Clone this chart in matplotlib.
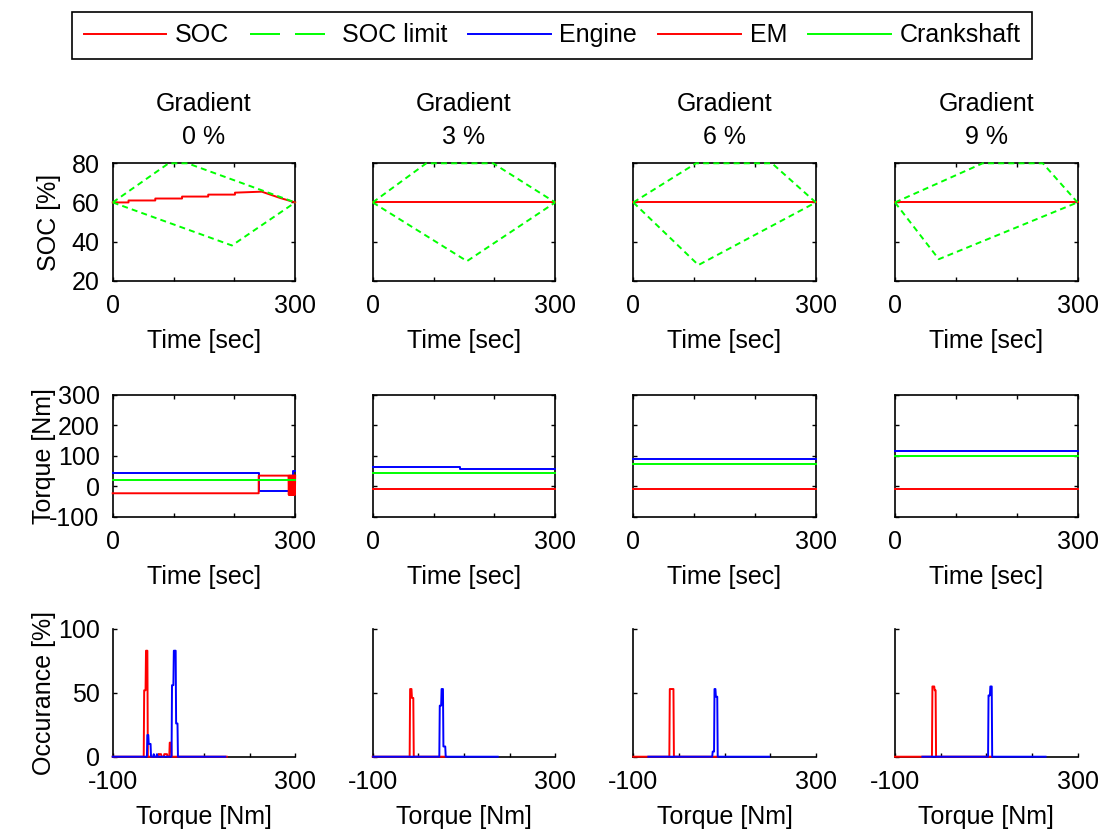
import matplotlib
matplotlib.use('Agg')
import matplotlib.pyplot as plt
from matplotlib.lines import Line2D

plt.rcParams['font.family'] = ['Liberation Sans', 'DejaVu Sans']
plt.rcParams['font.size'] = 18
plt.rcParams['axes.titlesize'] = 18
plt.rcParams['axes.unicode_minus'] = False
plt.rcParams['lines.scale_dashes'] = False

# -----------------------------
# Data
# -----------------------------
gradients = ['0 %', '3 %', '6 %', '9 %']

# SOC trace [%] vs time [s]
soc_t = [[0, 26, 26, 70, 70, 114, 114, 157, 157, 201, 201, 245, 259, 275, 300],
         [0, 300], [0, 300], [0, 300]]
soc_v = [[60, 60, 61, 61, 62, 62, 63, 63, 64, 64, 65, 65.5, 64, 62.3, 60],
         [60, 60], [60, 60], [60, 60]]

# SOC limits (upper / lower envelope)
lim_hi_t = [[0, 92, 123, 300], [0, 88, 198, 300], [0, 103, 228, 300], [0, 144, 243, 300]]
lim_hi_v = [[60, 80, 80, 60], [60, 80, 80, 60], [60, 80, 80, 60], [60, 80, 80, 60]]
lim_lo_t = [[0, 196, 300], [0, 155, 300], [0, 107, 300], [0, 72, 300]]
lim_lo_v = [[60, 38, 60], [60, 30, 60], [60, 28, 60], [60, 31, 60]]

# Torque time series [Nm]
eng_t = [[0, 240, 240, 296, 296, 300], [0, 144, 144, 300], [0, 300], [0, 300]]
eng_v = [[42, 42, -16, -16, 50, 50], [62, 62, 56, 56], [91, 91], [116, 116]]
em_t = [[0, 240, 240, 289, 289.5, 290, 290.5, 291, 291.5, 292, 292.5, 293, 293.5,
         294, 294.5, 295, 295.5, 296, 296.5, 297, 297.5, 298, 298.5, 299, 299.5, 300],
        [0, 300], [0, 300], [0, 300]]
em_v = [[-23, -23, 35, 35, -28, 35, -28, 35, -28, 35, -28, 35, -28,
         35, -28, 35, -28, 35, -28, 35, -28, 35, -28, 35, -28, 35],
        [-9, -9], [-9, -9], [-9, -9]]
crank_t = [[0, 300], [0, 300], [0, 300], [0, 300]]
crank_v = [[19, 19], [43, 43], [74, 74], [100, 100]]

# Torque occurrence histograms [%]
em_hx = [[-100, -32, -31, -28, -27, -24, -23, 0, 1, 6, 7, 12, 13, 19, 20, 24, 25, 28, 29, 150],
         [-100, -19, -18, -15, -14, -11, -10, 60],
         [-100, -21, -20, -12, -11, 84],
         [-100, -19, -18, -14, -13, -11, -10, 110]]
em_hy = [[0, 0, 52, 52, 83, 83, 0, 0, 2, 2, 0, 0, 2, 2, 0, 0, 11, 11, 0, 0],
         [0, 0, 53, 53, 46, 46, 0, 0],
         [0, 0, 53, 53, 0, 0],
         [0, 0, 55, 55, 52, 52, 0, 0]]
eng_hx = [[-100, -25, -24, -22, -21, -17, -16, -11, -10, -9, -4, -3, -2,
           29, 30, 33, 34, 38, 39, 42, 43, 147],
          [-99, 46, 47, 50, 51, 54, 55, 59, 60, 174],
          [-67, 73, 74, 77, 78, 80, 81, 84, 85, 198],
          [-40, 104, 105, 108, 109, 112, 113, 230]]
eng_hy = [[0, 0, 17, 17, 10, 10, 0, 0, 2, 0, 0, 2, 0,
           0, 56, 56, 83, 83, 26, 26, 0, 0],
          [0, 0, 40, 40, 53, 53, 8, 8, 0, 0],
          [0, 0, 4, 4, 53, 53, 47, 47, 0, 0],
          [0, 0, 48, 48, 55, 55, 0, 0]]

RED, GREEN, BLUE = '#ff0000', '#00ff00', '#0000ff'
LW = 1.4
DASH = (4.3, 3.0)

# -----------------------------
# Layout (pixel boxes of the original)
# -----------------------------
W, H = 1104, 833
fig = plt.figure(figsize=(W / 100, H / 100), dpi=100)

col_left = [112.7, 372.7, 633.3, 895.0]
col_w = 182.5
rows = [(163.3, 280.7), (395.0, 516.7), (629.0, 756.7)]


def make_ax(r, c):
    top, bot = rows[r]
    return fig.add_axes([col_left[c] / W, (H - bot) / H, col_w / W, (bot - top) / H])


def style(ax, boxed):
    for s in ax.spines.values():
        s.set_linewidth(1.2)
    if not boxed:
        ax.spines['top'].set_visible(False)
        ax.spines['right'].set_visible(False)
    ax.tick_params(direction='in', length=3, width=1, top=boxed, right=boxed,
                   pad=9.5)


for c in range(4):
    # --- SOC row
    ax = make_ax(0, c)
    ax.plot(soc_t[c], soc_v[c], color=RED, lw=LW, clip_on=False, zorder=3)
    ax.plot(lim_hi_t[c], lim_hi_v[c], color=GREEN, lw=LW, dashes=DASH, clip_on=False, zorder=3)
    ax.plot(lim_lo_t[c], lim_lo_v[c], color=GREEN, lw=LW, dashes=DASH, clip_on=False, zorder=3)
    ax.set_xlim(0, 300)
    ax.set_ylim(20, 80)
    ax.set_xticks([0, 100, 200, 300])
    ax.set_xticklabels(['0', '', '', '300'])
    ax.set_yticks([20, 40, 60, 80])
    if c == 0:
        ax.set_ylabel('SOC [%]')
    else:
        ax.set_yticklabels([])
    ax.set_xlabel('Time [sec]', labelpad=8)
    ax.set_title('Gradient\n' + gradients[c], pad=14, linespacing=1.45)
    style(ax, True)
    if c == 0:
        ax.yaxis.set_label_coords(-0.285, 0.5)

    # --- torque row
    ax = make_ax(1, c)
    ax.plot(eng_t[c], eng_v[c], color=BLUE, lw=LW, clip_on=False, zorder=3)
    ax.plot(em_t[c], em_v[c], color=RED, lw=LW, clip_on=False, zorder=3)
    ax.plot(crank_t[c], crank_v[c], color=GREEN, lw=LW, clip_on=False, zorder=3)
    ax.set_xlim(0, 300)
    ax.set_ylim(-100, 300)
    ax.set_xticks([0, 100, 200, 300])
    ax.set_xticklabels(['0', '', '', '300'])
    ax.set_yticks([-100, 0, 100, 200, 300])
    if c == 0:
        ax.set_ylabel('Torque [Nm]')
    else:
        ax.set_yticklabels([])
    ax.set_xlabel('Time [sec]', labelpad=8)
    style(ax, True)
    if c == 0:
        ax.yaxis.set_label_coords(-0.31, 0.5)

    # --- occurrence row
    ax = make_ax(2, c)
    ax.plot(em_hx[c], em_hy[c], color=RED, lw=LW, clip_on=False, zorder=3)
    ax.plot(eng_hx[c], eng_hy[c], color=BLUE, lw=LW, clip_on=False, zorder=3)
    ax.set_xlim(-100, 300)
    ax.set_ylim(0, 100)
    ax.set_xticks([-100, 0, 100, 200, 300])
    ax.set_xticklabels(['-100', '', '', '', '300'])
    ax.set_yticks([0, 50, 100])
    if c == 0:
        ax.set_ylabel('Occurance [%]')
    else:
        ax.set_yticklabels([])
    ax.set_xlabel('Torque [Nm]', labelpad=8)
    style(ax, False)
    if c == 0:
        ax.yaxis.set_label_coords(-0.31, 0.5)

# -----------------------------
# Legend
# -----------------------------
handles = [
    Line2D([], [], color=RED, lw=LW),
    Line2D([], [], color=GREEN, lw=LW, dashes=(21.6, 10.8)),
    Line2D([], [], color=BLUE, lw=LW),
    Line2D([], [], color=RED, lw=LW),
    Line2D([], [], color=GREEN, lw=LW),
]
labels = ['SOC', 'SOC limit', 'Engine', 'EM', 'Crankshaft']
leg = fig.legend(handles, labels, loc='upper center', bbox_to_anchor=(0.5, 1 - 12 / H),
                 borderaxespad=0, ncol=5, frameon=True, fancybox=False, edgecolor='black',
                 framealpha=1, handlelength=3.3, handletextpad=0.35, columnspacing=0.85,
                 borderpad=0.45)
leg.get_frame().set_linewidth(1.2)

fig.savefig('out.png', dpi=100)
